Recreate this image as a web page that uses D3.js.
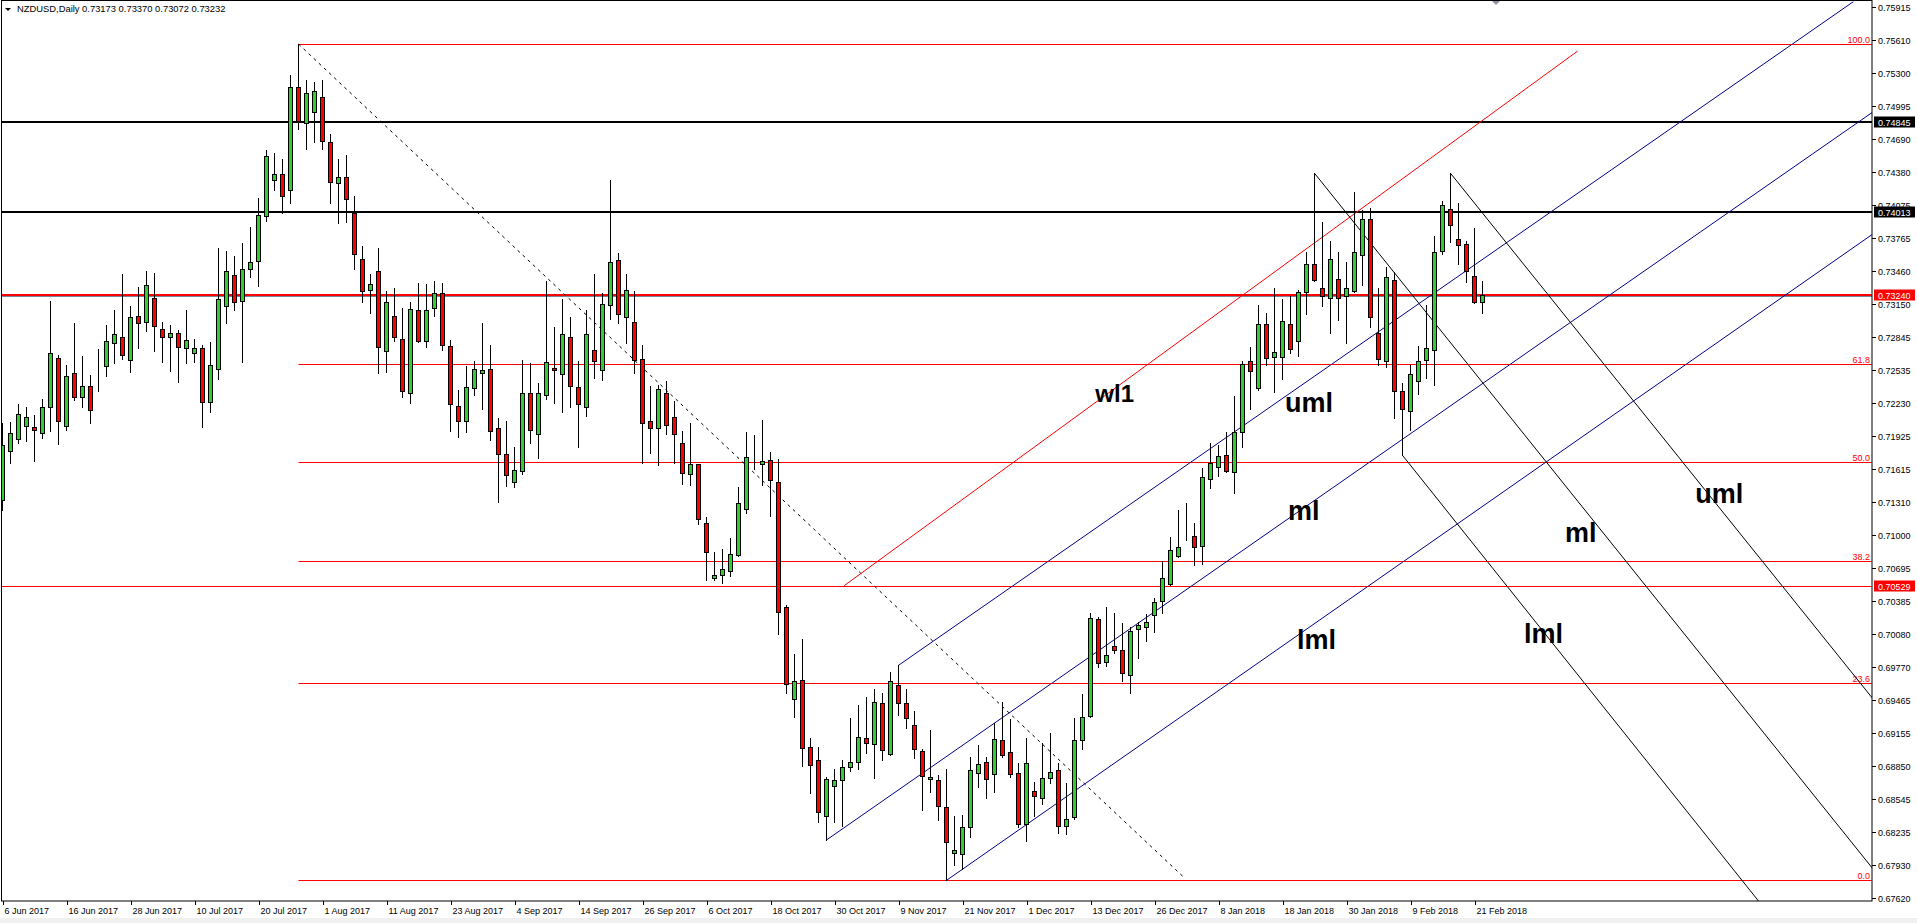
<!DOCTYPE html>
<html>
<head>
<meta charset="utf-8">
<script src="https://cdn.jsdelivr.net/npm/d3@7"></script>
<style>
  body { margin: 0; background: #fff; overflow: hidden; }
  svg text { font-family: "Liberation Sans", Arial, sans-serif; }
</style>
</head>
<body>
<svg width="1917" height="923"></svg>
<script>
// NZDUSD daily bars, 6 Jun 2017 .. 22 Feb 2018 (index 0..185)
const opens = [
  0.71328,0.71787,0.71899,0.72020,0.72008,0.71949,0.72191,0.72647,0.72014,0.72508,
  0.72284,0.72386,0.72631,0.72573,0.72787,0.72843,0.72629,0.73038,0.72982,0.73206,
  0.72917,0.72843,0.72880,0.72740,0.72694,0.72740,0.72238,0.72545,0.73134,0.73420,
  0.73181,0.73474,0.73550,0.73969,0.74304,0.74360,0.74211,0.75170,0.74835,0.74938,
  0.75077,0.74658,0.74277,0.74332,0.73997,0.73569,0.73280,0.73457,0.72712,0.73038,
  0.72824,0.72321,0.73094,0.72806,0.73113,0.73252,0.72759,0.72200,0.72061,0.72368,
  0.72508,0.72545,0.71996,0.71754,0.71493,0.71595,0.72321,0.71940,0.72303,0.72554,
  0.72498,0.72843,0.72377,0.72191,0.72722,0.72536,0.73141,0.73560,0.73029,0.72982,
  0.72638,0.72061,0.71996,0.72321,0.72098,0.71856,0.71567,0.71660,0.71111,0.70599,
  0.70627,0.70664,0.70813,0.71241,0.71694,0.71660,0.71698,0.71493,0.70329,0.69473,
  0.69649,0.69026,0.68905,0.68383,0.68663,0.68718,0.68839,0.68886,0.69109,0.69054,
  0.69435,0.68960,0.69603,0.69435,0.69230,0.68988,0.68728,0.68718,0.68467,0.68039,
  0.68030,0.68281,0.68784,0.68886,0.68774,0.69091,0.68979,0.68784,0.68309,0.68616,
  0.68551,0.68737,0.68812,0.68290,0.68374,0.69091,0.69314,0.70217,0.69817,0.69969,
  0.69929,0.69696,0.70124,0.70143,0.70255,0.70385,0.70543,0.70804,0.71018,0.70990,
  0.70897,0.71521,0.71632,0.71744,0.71586,0.71958,0.72619,0.72368,0.72964,0.72657,
  0.72657,0.72964,0.72806,0.73262,0.73522,0.73299,0.73206,0.73383,0.73225,0.73271,
  0.73606,0.73941,0.72880,0.72619,0.73373,0.72340,0.72154,0.72433,0.72629,0.72722,
  0.73643,0.74034,0.73755,0.73709,0.73411,0.73173
];
const highs = [
  0.72045,0.72054,0.72222,0.72197,0.72119,0.72271,0.73181,0.72678,0.72582,0.72979,
  0.72671,0.72492,0.72734,0.72957,0.73097,0.73432,0.73134,0.73314,0.73460,0.73439,
  0.72985,0.72957,0.72911,0.73097,0.72824,0.72768,0.72802,0.73674,0.73646,0.73600,
  0.73718,0.73867,0.74137,0.74587,0.74556,0.74503,0.75285,0.75573,0.75235,0.75217,
  0.75235,0.74733,0.74500,0.74537,0.74158,0.73690,0.73429,0.73671,0.73271,0.73299,
  0.73113,0.73169,0.73345,0.73336,0.73364,0.73345,0.72815,0.72352,0.72573,0.72619,
  0.72973,0.72771,0.72089,0.72061,0.71819,0.72629,0.72601,0.72415,0.73370,0.72936,
  0.73196,0.73029,0.72619,0.73094,0.73432,0.73258,0.74307,0.73625,0.73432,0.73271,
  0.72768,0.72386,0.72396,0.72433,0.72247,0.71968,0.72042,0.71665,0.71167,0.70841,
  0.70869,0.70971,0.71446,0.71958,0.71933,0.72073,0.71772,0.71707,0.70348,0.69892,
  0.70031,0.69109,0.69026,0.68746,0.68821,0.68905,0.69296,0.69417,0.69491,0.69566,
  0.69528,0.69724,0.69789,0.69566,0.69361,0.69007,0.69184,0.68765,0.68821,0.68383,
  0.68393,0.68933,0.69044,0.68933,0.69249,0.69445,0.69286,0.68876,0.69109,0.68700,
  0.69063,0.69159,0.68876,0.68691,0.69296,0.69519,0.70273,0.70236,0.70335,0.70273,
  0.70180,0.70143,0.70189,0.70264,0.70413,0.70760,0.70981,0.71232,0.71297,0.71111,
  0.71623,0.71856,0.71837,0.71958,0.72293,0.72619,0.72750,0.73141,0.73066,0.73299,
  0.73196,0.73225,0.73280,0.73634,0.74370,0.73913,0.73736,0.73634,0.73541,0.74193,
  0.74025,0.74044,0.73299,0.73494,0.73448,0.72415,0.72582,0.72759,0.73141,0.73783,
  0.74109,0.74370,0.74090,0.73736,0.73858,0.73370
];
const lows = [
  0.71235,0.71675,0.71862,0.71880,0.71691,0.71908,0.71973,0.71847,0.71983,0.72256,
  0.72191,0.72048,0.72346,0.72485,0.72606,0.72641,0.72523,0.72746,0.72901,0.72718,
  0.72616,0.72532,0.72429,0.72601,0.72610,0.72005,0.72150,0.72455,0.72979,0.73100,
  0.72616,0.73400,0.73323,0.73928,0.74211,0.73997,0.74090,0.74785,0.74593,0.74664,
  0.74599,0.74090,0.73904,0.73913,0.73476,0.73169,0.73072,0.72508,0.72517,0.72806,
  0.72284,0.72228,0.72796,0.72750,0.73038,0.72722,0.71968,0.71912,0.71958,0.72303,
  0.72172,0.71884,0.71305,0.71461,0.71452,0.71567,0.71856,0.71716,0.72265,0.72234,
  0.72150,0.72191,0.71824,0.72107,0.72461,0.72442,0.73016,0.72973,0.72787,0.72508,
  0.71670,0.71763,0.71651,0.71940,0.71670,0.71474,0.71465,0.71102,0.70580,0.70580,
  0.70553,0.70618,0.70804,0.71204,0.71614,0.71465,0.71182,0.70083,0.69528,0.69305,
  0.68849,0.68597,0.68327,0.68163,0.68327,0.68290,0.68802,0.68821,0.68970,0.68737,
  0.68905,0.68955,0.69324,0.69202,0.68923,0.68439,0.68607,0.68346,0.67787,0.67927,
  0.67890,0.68188,0.68653,0.68551,0.68607,0.68938,0.68752,0.68286,0.68156,0.68386,
  0.68495,0.68691,0.68225,0.68216,0.68355,0.69007,0.69305,0.69770,0.69780,0.69901,
  0.69640,0.69528,0.69854,0.70013,0.70096,0.70273,0.70534,0.70800,0.70953,0.70720,
  0.70729,0.71437,0.71549,0.71586,0.71390,0.71819,0.72178,0.72355,0.72582,0.72336,
  0.72452,0.72694,0.72666,0.73057,0.73364,0.73131,0.72880,0.73001,0.72787,0.73262,
  0.73327,0.72936,0.72582,0.72564,0.72089,0.71744,0.71977,0.72312,0.72461,0.72396,
  0.73616,0.73727,0.73522,0.73355,0.73159,0.73072
];
const closes = [
  0.71840,0.71955,0.72126,0.72101,0.71977,0.72194,0.72694,0.72066,0.72480,0.72284,
  0.72386,0.72163,0.72631,0.72806,0.72871,0.72675,0.73029,0.72973,0.73327,0.72945,
  0.72843,0.72880,0.72750,0.72815,0.72740,0.72238,0.72582,0.73196,0.73457,0.73171,
  0.73476,0.73541,0.73979,0.74528,0.74360,0.74155,0.75170,0.74854,0.75114,0.75133,
  0.74668,0.74286,0.74332,0.74128,0.73616,0.73271,0.73336,0.72750,0.73169,0.72843,
  0.72340,0.73103,0.72806,0.73094,0.73252,0.72768,0.72219,0.72061,0.72377,0.72545,
  0.72536,0.71968,0.71754,0.71558,0.71605,0.72321,0.71977,0.72321,0.72610,0.72536,
  0.72871,0.72386,0.72219,0.72871,0.72619,0.73150,0.73541,0.73057,0.73280,0.72629,
  0.72042,0.71996,0.72359,0.72023,0.71940,0.71577,0.71660,0.71148,0.70841,0.70627,
  0.70683,0.70823,0.71297,0.71725,0.71694,0.71688,0.71511,0.70283,0.69612,0.69640,
  0.69016,0.68858,0.68421,0.68728,0.68718,0.68839,0.68886,0.69119,0.69063,0.69445,
  0.68998,0.69640,0.69435,0.69296,0.69007,0.68756,0.68746,0.68476,0.68141,0.68067,
  0.68281,0.68812,0.68867,0.68728,0.69100,0.68951,0.68774,0.68309,0.68876,0.68569,
  0.68737,0.68793,0.68290,0.68355,0.69091,0.69305,0.70227,0.69808,0.69885,0.69929,
  0.69715,0.70106,0.70164,0.70189,0.70376,0.70599,0.70860,0.70888,0.71018,0.70888,
  0.71539,0.71670,0.71735,0.71595,0.71958,0.72591,0.72526,0.72964,0.72647,0.72703,
  0.72992,0.72731,0.73262,0.73522,0.73373,0.73225,0.73569,0.73206,0.73299,0.73634,
  0.73941,0.73029,0.72638,0.73401,0.72340,0.72172,0.72498,0.72619,0.72740,0.73634,
  0.74072,0.73886,0.73699,0.73457,0.73169,0.73232
];

const dateLabels = ['6 Jun 2017','16 Jun 2017','28 Jun 2017','10 Jul 2017','20 Jul 2017',
  '1 Aug 2017','11 Aug 2017','23 Aug 2017','4 Sep 2017','14 Sep 2017','26 Sep 2017',
  '6 Oct 2017','18 Oct 2017','30 Oct 2017','9 Nov 2017','21 Nov 2017','1 Dec 2017',
  '13 Dec 2017','26 Dec 2017','8 Jan 2018','18 Jan 2018','30 Jan 2018','9 Feb 2018','21 Feb 2018'];
const dateEvery = 8;

const priceTicks = [0.75915,0.75610,0.75300,0.74995,0.74690,0.74380,0.74075,0.73765,0.73460,
  0.73150,0.72845,0.72535,0.72230,0.71925,0.71615,0.71310,0.71000,0.70695,0.70385,0.70080,
  0.69770,0.69465,0.69155,0.68850,0.68545,0.68235,0.67930,0.67620];

// horizontal levels drawn by hand on the chart
const levelPrices = [0.74845, 0.74013, 0.73240, 0.70529];
const levelColors = ['#000000', '#000000', '#ff0000', '#ff0000'];

// fibonacci retracement
const fibHigh = 0.75573, fibLow = 0.67787, fibStartBar = 37;
const fibLevels = [0, 23.6, 38.2, 50, 61.8, 100];

// trend lines: [[bar, price], [bar, price]]
const dashedLine = [[37, 0.75573], [147.5, 0.67827]];
const warningLine = [[105.2, 0.70530], [196.9, 0.75508]];
const blueFork = [
  [[112, 0.69789], [231.35, 0.75967]],
  [[103, 0.68163], [233.75, 0.74938]],
  [[118, 0.67787], [233.75, 0.73802]]
];
const blackFork = [
  [[181, 0.74370], [233.75, 0.69482]],
  [[164, 0.74370], [233.75, 0.67899]],
  [[175, 0.71744], [219.5, 0.67595]]
];

const noteTexts = ['wl1', 'uml', 'ml', 'lml', 'uml', 'ml', 'lml'];
const noteBars = [136.6, 160.3, 160.7, 161.8, 211.6, 195.3, 190.2];
const notePrices = [0.72238, 0.72145, 0.71142, 0.69941, 0.71297, 0.70940, 0.69999];

const headerText = 'NZDUSD,Daily  0.73173 0.73370 0.73072 0.73232';

// ---------------------------------------------------------------
const svg = d3.select('svg');
const plotRight = 1872, plotBottom = 901;
const green = '#32cd32', red = '#ff0000';

const x = d3.scaleLinear().domain([0, 185]).range([2.5, 2.5 + 8 * 185]);
const y = d3.scaleLinear().domain([0.67620, 0.75915]).range([898.3, 7.3]);
const crisp = v => Math.round(v) + 0.5;

svg.append('rect').attr('width', 1917).attr('height', 923).attr('fill', '#fff');
svg.append('rect').attr('x', 0).attr('y', 918).attr('width', 1917).attr('height', 5).attr('fill', '#f0f0f0');

svg.append('defs').append('clipPath').attr('id', 'plotClip')
  .append('rect').attr('x', 1).attr('y', 1).attr('width', plotRight - 1).attr('height', plotBottom - 1);

const g = svg.append('g').attr('clip-path', 'url(#plotClip)');

// fib levels
const fibG = g.append('g');
fibLevels.forEach(lv => {
  const p = fibLow + (fibHigh - fibLow) * lv / 100;
  const yy = crisp(y(p));
  fibG.append('line')
    .attr('x1', x(fibStartBar)).attr('x2', plotRight).attr('y1', yy).attr('y2', yy)
    .attr('stroke', red).attr('stroke-width', 1);
  fibG.append('text')
    .attr('x', plotRight - 2).attr('y', yy - 1.5)
    .attr('text-anchor', 'end').attr('font-size', 9).attr('fill', red)
    .text(lv.toFixed(1));
});

// horizontal levels
levelPrices.forEach((p, i) => {
  const w = i === 3 ? 1 : 2;
  const yy = w === 1 ? crisp(y(p)) : Math.round(y(p));
  g.append('line')
    .attr('x1', 0).attr('x2', plotRight).attr('y1', yy).attr('y2', yy)
    .attr('stroke', levelColors[i]).attr('stroke-width', w);
});
// bid line
g.append('line')
  .attr('x1', 0).attr('x2', plotRight)
  .attr('y1', crisp(y(closes[closes.length - 1])) + 1).attr('y2', crisp(y(closes[closes.length - 1])) + 1)
  .attr('stroke', '#778899').attr('stroke-width', 1);

// trend lines
const lineGen = d3.line().x(d => x(d[0])).y(d => y(d[1]));
g.append('path').attr('d', lineGen(dashedLine))
  .attr('fill', 'none').attr('stroke', '#000').attr('stroke-width', 1).attr('stroke-dasharray', '3,4');
g.append('path').attr('d', lineGen(warningLine))
  .attr('fill', 'none').attr('stroke', red).attr('stroke-width', 1);
blueFork.forEach(l => g.append('path').attr('d', lineGen(l))
  .attr('fill', 'none').attr('stroke', '#00008b').attr('stroke-width', 1));
blackFork.forEach(l => g.append('path').attr('d', lineGen(l))
  .attr('fill', 'none').attr('stroke', '#000').attr('stroke-width', 1));

// candles
const bars = d3.range(opens.length).map(i => ({
  i, o: opens[i], h: highs[i], l: lows[i], c: closes[i]
}));
const candle = g.append('g').selectAll('g').data(bars).join('g');
candle.append('line')
  .attr('x1', d => x(d.i)).attr('x2', d => x(d.i))
  .attr('y1', d => Math.round(y(d.h))).attr('y2', d => Math.round(y(d.l)) + 1)
  .attr('stroke', '#000').attr('stroke-width', 1);
candle.append('rect')
  .attr('x', d => x(d.i) - 2)
  .attr('y', d => crisp(y(Math.max(d.o, d.c))) - 0.0)
  .attr('width', 4)
  .attr('height', d => Math.max(0, Math.round(y(Math.min(d.o, d.c))) - Math.round(y(Math.max(d.o, d.c)))))
  .attr('fill', d => d.c > d.o ? green : (d.c < d.o ? red : '#000'))
  .attr('stroke', '#000').attr('stroke-width', 1);

// annotations
noteTexts.forEach((t, i) => {
  g.append('text')
    .attr('x', x(noteBars[i])).attr('y', y(notePrices[i]))
    .attr('font-size', i === 0 ? 24 : 27).attr('font-weight', 'bold').attr('fill', '#000')
    .text(t);
});

// chart shift marker
svg.append('path').attr('d', 'M1491,0 L1501,0 L1496,5 Z').attr('fill', '#8e8e9e');

// frame
svg.append('rect').attr('x', 1.5).attr('y', 0.5).attr('width', plotRight - 1.5).attr('height', plotBottom - 0.5)
  .attr('fill', 'none').attr('stroke', '#000').attr('stroke-width', 1);

// price axis
const yAxis = svg.append('g');
priceTicks.forEach(p => {
  const yy = crisp(y(p));
  yAxis.append('line').attr('x1', plotRight).attr('x2', plotRight + 4).attr('y1', yy).attr('y2', yy)
    .attr('stroke', '#000');
  yAxis.append('text').attr('x', plotRight + 6).attr('y', yy + 3.5)
    .attr('font-size', 9).attr('fill', '#000').text(p.toFixed(5));
});
levelPrices.forEach((p, i) => {
  const yy = Math.round(y(p));
  yAxis.append('rect').attr('x', plotRight + 2).attr('y', yy - 5.5).attr('width', 41).attr('height', 11)
    .attr('fill', levelColors[i]);
  yAxis.append('text').attr('x', plotRight + 6).attr('y', yy + 3.5)
    .attr('font-size', 9).attr('fill', '#fff').text(p.toFixed(5));
});

// date axis
const xAxis = svg.append('g');
dateLabels.forEach((t, k) => {
  const xx = Math.round(x(k * dateEvery)) + 0.5;
  xAxis.append('line').attr('x1', xx).attr('x2', xx).attr('y1', plotBottom).attr('y2', plotBottom + 4)
    .attr('stroke', '#000');
  xAxis.append('text').attr('x', xx + 1).attr('y', 914)
    .attr('font-size', 9).attr('fill', '#000').text(t);
});

// header
svg.append('path').attr('d', 'M5,8 L11,8 L8,11 Z').attr('fill', '#000');
svg.append('text').attr('x', 17).attr('y', 11.5).attr('font-size', 9.4).attr('fill', '#000').text(headerText);
</script>
</body>
</html>
